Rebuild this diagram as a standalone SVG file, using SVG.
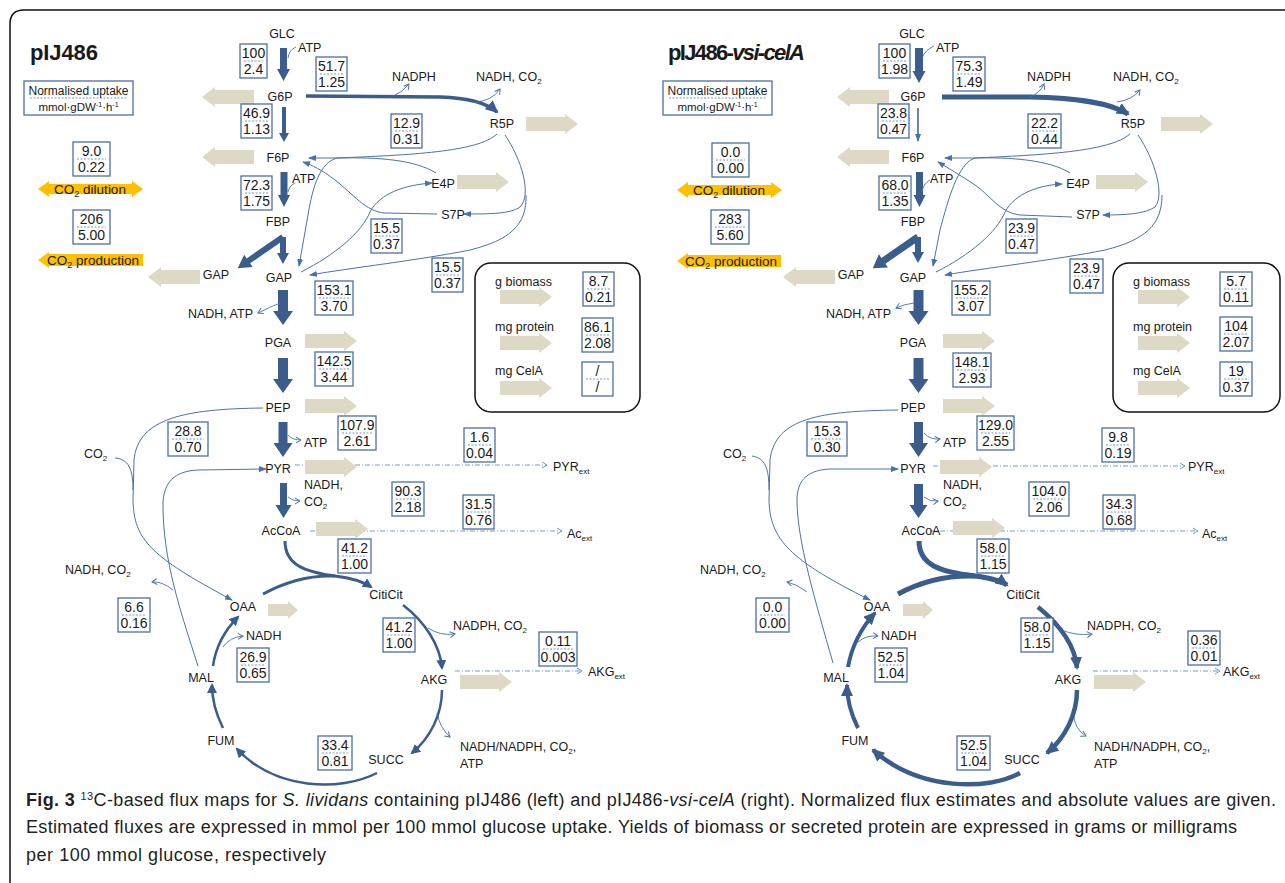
<svg xmlns="http://www.w3.org/2000/svg" width="1285" height="883" viewBox="0 0 1285 883">
<defs>
<style>
text{font-family:"Liberation Sans",Arial,sans-serif;fill:#1a1a1a}
.l{font-size:12.5px;text-anchor:middle}
.s{font-size:12.5px}
.e{font-size:12.5px;text-anchor:end}
.n{font-size:14px;text-anchor:middle}
.fb{fill:#fff;stroke:#4a6fa5;stroke-width:1.3}
.dl{stroke:#6f9ad8;stroke-width:1;stroke-dasharray:2 1.5}
.thin{fill:none;stroke:#4a72a8;stroke-width:1}
.blk{fill:#3a5d8c}
.bg{fill:#ddd9c4}
.or{fill:#ffc000}
.dd{fill:none;stroke:#6f9ad8;stroke-width:1;stroke-dasharray:5 2 1 2}
.side{fill:none;stroke:#4a72a8;stroke-width:0.9}
.thk{fill:none;stroke:#3a5d8c}
.frame{fill:none;stroke:#111;stroke-width:1.5}
.cap{font-size:18px;fill:#231f20}
</style>
<marker id="a" markerUnits="userSpaceOnUse" markerWidth="8" markerHeight="6" refX="7" refY="3" orient="auto"><path d="M0,0 L8,3 L0,6 z" fill="#4a72a8"/></marker>
<marker id="o" markerUnits="userSpaceOnUse" markerWidth="8" markerHeight="8" refX="6" refY="4" orient="auto"><path d="M1,1 L6,4 L1,7" fill="none" stroke="#4a72a8" stroke-width="1"/></marker>
<marker id="od" markerUnits="userSpaceOnUse" markerWidth="8" markerHeight="8" refX="6" refY="4" orient="auto"><path d="M1,1 L6,4 L1,7" fill="none" stroke="#6f9ad8" stroke-width="1"/></marker>
<marker id="A" markerUnits="userSpaceOnUse" markerWidth="14" markerHeight="12" refX="11" refY="6" orient="auto"><path d="M0,0 L13,6 L0,12 z" fill="#3a5d8c"/></marker>
<marker id="B" markerUnits="userSpaceOnUse" markerWidth="11" markerHeight="10" refX="8" refY="5" orient="auto"><path d="M0,0 L10,5 L0,10 z" fill="#3a5d8c"/></marker>
<polygon id="bR" points="0,-7 39,-7 39,-10 52,0 39,10 39,7 0,7"/>
<polygon id="bL" points="0,0 13,-10 13,-7 52,-7 52,7 13,7 13,10"/>
<polygon id="bS" points="0,-6 20,-6 20,-9 30,0 20,9 20,6 0,6"/>
</defs>

<path class="frame" d="M1290,10 H24 Q10,10 10,24 V890"/>

<!-- ================= LEFT PANEL ================= -->
<text x="30" y="60" font-size="22" font-weight="bold" textLength="68">pIJ486</text>

<g id="L-uptake"><rect class="fb" x="24" y="81" width="109" height="34"/><line class="dl" x1="30" y1="98" x2="127" y2="98"/><text class="l" x="78.5" y="95" style="font-size:12px">Normalised uptake</text><text class="l" x="78.5" y="111" style="font-size:11.5px">mmol·gDW<tspan dy="-4" font-size="7">-1</tspan><tspan dy="4">·h</tspan><tspan dy="-4" font-size="7">-1</tspan></text></g>

<g id="L-co2dil"><g><rect class="fb" x="73" y="142" width="37" height="34"/><line class="dl" x1="77" y1="159" x2="106" y2="159"/><text class="n" x="91.5" y="156">9.0</text><text class="n" x="91.5" y="172">0.22</text></g>
<polygon class="or" points="38,189 49,181 49,184 132,184 132,181 143,189 132,197 132,194 49,194 49,197"/>
<text class="l" x="90" y="194" style="font-size:13.5px">CO<tspan dy="3" font-size="9">2</tspan><tspan dy="-3"> dilution</tspan></text></g>

<g id="L-co2prod"><g><rect class="fb" x="73" y="210" width="37" height="34"/><line class="dl" x1="77" y1="227" x2="106" y2="227"/><text class="n" x="91.5" y="224">206</text><text class="n" x="91.5" y="240">5.00</text></g>
<polygon class="or" points="38,260 49,252 49,254 143,254 143,266 49,266 49,268"/>
<text class="l" x="93" y="265" style="font-size:13.5px">CO<tspan dy="3" font-size="9">2</tspan><tspan dy="-3"> production</tspan></text></g>

<!-- connectors left -->
<g id="L-connectors">
<polygon class="blk" points="280,48 287,48 287,69 290,69 283.5,81 277,69 280,69"/>
<polygon class="blk" points="282,107 286,107 286,133 289,133 284,142 279,133 282,133"/>
<polygon class="blk" points="280.5,172 287.5,172 287.5,195 290,195 284,207 278,195 280.5,195"/>
<polygon class="blk" points="280,237 286,237 286,253 289,253 283,264 277,253 280,253"/>
<polygon class="blk" transform="translate(283,237) rotate(145.4)" points="0,-3 42,-3 42,-7.5 55,0 42,7.5 42,3 0,3"/>
<polygon class="blk" points="278,290 288,290 288,311 293,311 283,325 273,311 278,311"/>
<polygon class="blk" points="278,358 288,358 288,379 293,379 283,393 273,379 278,379"/>
<polygon class="blk" points="278.5,422 287.5,422 287.5,443 292.5,443 283,457 273.5,443 278.5,443"/>
<polygon class="blk" points="280,483 287,483 287,505 291.5,505 283.5,518 275.5,505 280,505"/>
<path class="thk" stroke-width="3.5" marker-end="url(#A)" d="M306,96 L440,97 C470,98 488,104 497,112"/>
<path class="side" d="M296,47 Q289,50 288,58"/>
<path class="side" marker-end="url(#o)" d="M393,96 Q403,92 409,84"/>
<path class="side" marker-end="url(#o)" d="M475,102 Q492,101 500,89"/>
<path class="side" d="M295,183 Q289,186 288,192"/>
<path class="side" marker-end="url(#o)" d="M280,303 Q270,307 258,313"/>
<path class="side" marker-end="url(#o)" d="M288,435 Q292,440 301,440"/>
<path class="side" marker-end="url(#o)" d="M288,497 Q292,501 300,501"/>
<path class="side" marker-end="url(#o)" d="M428,628 Q440,636 455,634"/>
<path class="side" marker-end="url(#o)" d="M437,713 Q440,728 450,737"/>
<path class="side" marker-end="url(#o)" d="M223,647 Q230,637 243,636"/>
<path class="side" marker-end="url(#o)" d="M173,590 Q162,581 152,582"/>
<!-- non-oxidative PPP -->
<path class="thin" marker-end="url(#a)" d="M497,134 C478,152 410,155 337,158 L309,158"/>
<path class="thin" marker-end="url(#a)" d="M337,158 C320,163 313,185 308,215 L299,266"/>
<path class="thin" d="M436,173 C415,160 380,157 337,158"/>
<path class="thin" marker-end="url(#a)" d="M437,214 L385,213 C366,212 352,193 335,180 C322,170 312,165 303,162"/>
<path class="thin" marker-end="url(#a)" d="M301,272 C335,255 362,232 370,212 C380,193 405,185 432,183"/>
<path class="thin" marker-end="url(#a)" d="M505,135 C522,160 532,195 520,207 C510,214 490,214 464,214"/>
<path class="thin" marker-end="url(#a)" d="M526,195 C527,225 510,240 470,250 C420,260 350,268 310,275"/>
<!-- anaplerotic -->
<path class="thin" marker-end="url(#a)" d="M198,666 C180,610 163,560 163,505 C163,482 175,471 198,470 L266,469"/>
<path class="thin" stroke-width="1.3" marker-end="url(#a)" d="M263,408 C185,409 138,418 134,460 L133,500 C134,540 150,556 232,600"/>
<path class="thin" stroke-width="1.3" d="M115,458 C128,459 133,468 133,490"/>
<!-- external -->
<path class="dd" marker-end="url(#od)" d="M295,465 H547"/>
<path class="dd" marker-end="url(#od)" d="M310,531 H562"/>
<path class="dd" marker-end="url(#od)" d="M455,671 H582"/>
<!-- TCA -->
<path class="thk" stroke-width="3" marker-end="url(#B)" d="M285,541 C285,565 305,572 335,576 C352,578 362,581 371,587"/>
<path class="thk" stroke-width="3" d="M263,594 C285,582 310,575 335,576"/>
<path class="thk" stroke-width="2.5" marker-end="url(#B)" d="M403,605 C425,622 440,645 442,668"/>
<path class="thk" stroke-width="2.5" marker-end="url(#B)" d="M442,690 C442,715 430,738 412,753"/>
<path class="thk" stroke-width="2.5" marker-end="url(#B)" d="M377,773 C340,792 275,790 237,749"/>
<path class="thk" stroke-width="2.5" marker-end="url(#B)" d="M223,728 C215,712 212,700 212,685"/>
<path class="thk" stroke-width="2.5" marker-end="url(#B)" d="M213,666 C216,645 225,630 238,617"/>
</g>

<!-- beige arrows left -->
<g class="bg">
<use href="#bR" x="526" y="124"/><use href="#bR" x="457" y="182"/><use href="#bR" x="305" y="341"/><use href="#bR" x="305" y="406"/><use href="#bR" x="305" y="467"/><use href="#bR" x="316" y="529"/><use href="#bR" x="460" y="682"/><use href="#bS" x="268" y="610"/>
<use href="#bL" x="202" y="97"/><use href="#bL" x="202" y="157"/><use href="#bL" x="148" y="277"/>
</g>

<!-- nodes left -->
<g id="L-GLC"><text class="l" x="282" y="38">GLC</text><text class="s" x="298" y="52">ATP</text></g>
<g id="L-G6P"><text class="l" x="280" y="101">G6P</text></g>
<g id="L-F6P"><text class="l" x="278" y="162">F6P</text><text class="s" x="292" y="183">ATP</text></g>
<g id="L-FBP"><text class="l" x="278" y="226">FBP</text></g>
<g id="L-GAP"><text class="l" x="279" y="282">GAP</text><text class="e" x="253" y="318">NADH, ATP</text></g>
<g id="L-GAP2"><text class="l" x="216" y="279">GAP</text></g>
<g id="L-PGA"><text class="l" x="278" y="347">PGA</text></g>
<g id="L-PEP"><text class="l" x="278" y="412">PEP</text><text class="s" x="304" y="447">ATP</text></g>
<g id="L-PYR"><text class="l" x="278" y="473">PYR</text><text class="s" x="304" y="489">NADH,</text><text class="s" x="304" y="506">CO<tspan dy="3" font-size="8">2</tspan></text></g>
<g id="L-AcCoA"><text class="l" x="281" y="535">AcCoA</text></g>
<g id="L-R5P"><text class="l" x="502" y="128">R5P</text><text class="l" x="414" y="81">NADPH</text><text class="s" x="476" y="81">NADH, CO<tspan dy="3" font-size="8">2</tspan></text></g>
<g id="L-E4P"><text class="l" x="443" y="188">E4P</text></g>
<g id="L-S7P"><text class="l" x="453" y="219">S7P</text></g>
<g id="L-OAA"><text class="l" x="243" y="611">OAA</text><text class="s" x="246" y="640">NADH</text></g>
<g id="L-CitiCit"><text class="l" x="386" y="599">CitiCit</text></g>
<g id="L-AKG"><text class="l" x="434" y="684">AKG</text><text class="s" x="453" y="630">NADPH, CO<tspan dy="3" font-size="8">2</tspan></text></g>
<g id="L-SUCC"><text class="l" x="386" y="764">SUCC</text><text class="s" x="460" y="751">NADH/NADPH, CO<tspan dy="3" font-size="8">2</tspan><tspan dy="-3">,</tspan></text><text class="s" x="460" y="768">ATP</text></g>
<g id="L-FUM"><text class="l" x="221" y="745">FUM</text></g>
<g id="L-MAL"><text class="l" x="201" y="682">MAL</text><text class="s" x="65" y="574">NADH, CO<tspan dy="3" font-size="8">2</tspan></text></g>
<g id="L-CO2"><text class="s" x="84" y="458">CO<tspan dy="3" font-size="8">2</tspan></text></g>
<g id="L-PYRext"><text class="s" x="553" y="471">PYR<tspan dy="3" font-size="8">ext</tspan></text></g>
<g id="L-Acext"><text class="s" x="567" y="538">Ac<tspan dy="3" font-size="8">ext</tspan></text></g>
<g id="L-AKGext"><text class="s" x="588" y="676">AKG<tspan dy="3" font-size="8">ext</tspan></text></g>

<!-- flux boxes left -->
<g id="L-fluxes">
<g><rect class="fb" x="240" y="44" width="27" height="34"/><line class="dl" x1="244" y1="61" x2="263" y2="61"/><text class="n" x="253.5" y="58">100</text><text class="n" x="253.5" y="74">2.4</text></g>
<g><rect class="fb" x="316" y="57" width="31" height="34"/><line class="dl" x1="320" y1="74" x2="343" y2="74"/><text class="n" x="331.5" y="71">51.7</text><text class="n" x="331.5" y="87">1.25</text></g>
<g><rect class="fb" x="391" y="114" width="31" height="34"/><line class="dl" x1="395" y1="131" x2="418" y2="131"/><text class="n" x="406.5" y="128">12.9</text><text class="n" x="406.5" y="144">0.31</text></g>
<g><rect class="fb" x="241" y="104" width="31" height="34"/><line class="dl" x1="245" y1="121" x2="268" y2="121"/><text class="n" x="256.5" y="118">46.9</text><text class="n" x="256.5" y="134">1.13</text></g>
<g><rect class="fb" x="241" y="176" width="31" height="34"/><line class="dl" x1="245" y1="193" x2="268" y2="193"/><text class="n" x="256.5" y="190">72.3</text><text class="n" x="256.5" y="206">1.75</text></g>
<g><rect class="fb" x="371" y="219" width="31" height="34"/><line class="dl" x1="375" y1="236" x2="398" y2="236"/><text class="n" x="386.5" y="233">15.5</text><text class="n" x="386.5" y="249">0.37</text></g>
<g><rect class="fb" x="432" y="258" width="31" height="34"/><line class="dl" x1="436" y1="275" x2="459" y2="275"/><text class="n" x="447.5" y="272">15.5</text><text class="n" x="447.5" y="288">0.37</text></g>
<g><rect class="fb" x="315" y="281" width="38" height="34"/><line class="dl" x1="319" y1="298" x2="349" y2="298"/><text class="n" x="334" y="295">153.1</text><text class="n" x="334" y="311">3.70</text></g>
<g><rect class="fb" x="315" y="352" width="38" height="34"/><line class="dl" x1="319" y1="369" x2="349" y2="369"/><text class="n" x="334" y="366">142.5</text><text class="n" x="334" y="382">3.44</text></g>
<g><rect class="fb" x="338" y="416" width="38" height="34"/><line class="dl" x1="342" y1="433" x2="372" y2="433"/><text class="n" x="357" y="430">107.9</text><text class="n" x="357" y="446">2.61</text></g>
<g><rect class="fb" x="168" y="422" width="40" height="34"/><line class="dl" x1="172" y1="439" x2="204" y2="439"/><text class="n" x="188" y="436">28.8</text><text class="n" x="188" y="452">0.70</text></g>
<g><rect class="fb" x="464" y="428" width="31" height="34"/><line class="dl" x1="468" y1="445" x2="491" y2="445"/><text class="n" x="479.5" y="442">1.6</text><text class="n" x="479.5" y="458">0.04</text></g>
<g><rect class="fb" x="392" y="482" width="32" height="34"/><line class="dl" x1="396" y1="499" x2="420" y2="499"/><text class="n" x="408" y="496">90.3</text><text class="n" x="408" y="512">2.18</text></g>
<g><rect class="fb" x="463" y="495" width="31" height="34"/><line class="dl" x1="467" y1="512" x2="490" y2="512"/><text class="n" x="478.5" y="509">31.5</text><text class="n" x="478.5" y="525">0.76</text></g>
<g><rect class="fb" x="338" y="539" width="33" height="34"/><line class="dl" x1="342" y1="556" x2="367" y2="556"/><text class="n" x="354.5" y="553">41.2</text><text class="n" x="354.5" y="569">1.00</text></g>
<g><rect class="fb" x="118" y="598" width="32" height="34"/><line class="dl" x1="122" y1="615" x2="146" y2="615"/><text class="n" x="134" y="612">6.6</text><text class="n" x="134" y="628">0.16</text></g>
<g><rect class="fb" x="383" y="618" width="32" height="34"/><line class="dl" x1="387" y1="635" x2="411" y2="635"/><text class="n" x="399" y="632">41.2</text><text class="n" x="399" y="648">1.00</text></g>
<g><rect class="fb" x="539" y="632" width="38" height="34"/><line class="dl" x1="543" y1="649" x2="573" y2="649"/><text class="n" x="558" y="646">0.11</text><text class="n" x="558" y="662">0.003</text></g>
<g><rect class="fb" x="237" y="648" width="32" height="34"/><line class="dl" x1="241" y1="665" x2="265" y2="665"/><text class="n" x="253" y="662">26.9</text><text class="n" x="253" y="678">0.65</text></g>
<g><rect class="fb" x="318" y="736" width="34" height="34"/><line class="dl" x1="322" y1="753" x2="348" y2="753"/><text class="n" x="335" y="750">33.4</text><text class="n" x="335" y="766">0.81</text></g>
</g>

<g id="L-yields">
<rect x="475" y="263" width="165" height="149" rx="16" class="frame"/>
<text class="s" x="495" y="286">g biomass</text><text class="s" x="495" y="331">mg protein</text><text class="s" x="495" y="375">mg CelA</text>
<g class="bg"><use href="#bR" x="500" y="297"/><use href="#bR" x="500" y="343"/><use href="#bR" x="500" y="388"/></g>
<g><rect class="fb" x="583" y="272" width="31" height="34"/><line class="dl" x1="587" y1="289" x2="610" y2="289"/><text class="n" x="598.5" y="286">8.7</text><text class="n" x="598.5" y="302">0.21</text></g>
<g><rect class="fb" x="582" y="318" width="31" height="34"/><line class="dl" x1="586" y1="335" x2="609" y2="335"/><text class="n" x="597.5" y="332">86.1</text><text class="n" x="597.5" y="348">2.08</text></g>
<g><rect class="fb" x="582" y="362" width="31" height="34"/><line class="dl" x1="586" y1="379" x2="609" y2="379"/><text class="n" x="597.5" y="376">/</text><text class="n" x="597.5" y="392">/</text></g>
</g>

<!-- ================= RIGHT PANEL ================= -->
<text x="668" y="60" font-size="22" font-weight="bold" textLength="137">pIJ486-<tspan font-style="italic">vsi-celA</tspan></text>

<g id="R-uptake"><rect class="fb" x="663" y="81" width="109" height="34"/><line class="dl" x1="669" y1="98" x2="766" y2="98"/><text class="l" x="717.5" y="95" style="font-size:12px">Normalised uptake</text><text class="l" x="717.5" y="111" style="font-size:11.5px">mmol·gDW<tspan dy="-4" font-size="7">-1</tspan><tspan dy="4">·h</tspan><tspan dy="-4" font-size="7">-1</tspan></text></g>

<g id="R-co2dil"><g><rect class="fb" x="712" y="143" width="37" height="34"/><line class="dl" x1="716" y1="160" x2="745" y2="160"/><text class="n" x="730.5" y="157">0.0</text><text class="n" x="730.5" y="173">0.00</text></g>
<polygon class="or" points="677,190 688,182 688,185 771,185 771,182 782,190 771,198 771,195 688,195 688,198"/>
<text class="l" x="729" y="195" style="font-size:13.5px">CO<tspan dy="3" font-size="9">2</tspan><tspan dy="-3"> dilution</tspan></text></g>

<g id="R-co2prod"><g><rect class="fb" x="711" y="210" width="38" height="34"/><line class="dl" x1="715" y1="227" x2="745" y2="227"/><text class="n" x="730" y="224">283</text><text class="n" x="730" y="240">5.60</text></g>
<polygon class="or" points="677,261 688,253 688,255 781,255 781,267 688,267 688,269"/>
<text class="l" x="731" y="266" style="font-size:13.5px">CO<tspan dy="3" font-size="9">2</tspan><tspan dy="-3"> production</tspan></text></g>

<g id="R-connectors">
<polygon class="blk" points="915,48 923,48 923,71 925.5,71 919,83 912.5,71 915,71"/>
<path fill="none" stroke="#3a5d8c" stroke-width="1.5" marker-end="url(#a)" d="M918,108 V141"/>
<polygon class="blk" points="916,172 923,172 923,195 925.5,195 919.5,207 913.5,195 916,195"/>
<polygon class="blk" points="915,237 921,237 921,252 924,252 918,263 912,252 915,252"/>
<polygon class="blk" transform="translate(918,237) rotate(145.4)" points="0,-3.5 42,-3.5 42,-8 55,0 42,8 42,3.5 0,3.5"/>
<polygon class="blk" points="913.5,290 923.5,290 923.5,311 928.5,311 918.5,325 908.5,311 913.5,311"/>
<polygon class="blk" points="913.5,358 923.5,358 923.5,379 928.5,379 918.5,393 908.5,379 913.5,379"/>
<polygon class="blk" points="914,422 923,422 923,443 928,443 918.5,457 909,443 914,443"/>
<polygon class="blk" points="914,484 923,484 923,505 927.5,505 918.5,518 909.5,505 914,505"/>
<path class="thk" stroke-width="5" marker-end="url(#A)" d="M942,97 L1030,97 C1080,98 1110,103 1128,114"/>
<path class="side" d="M934,46 Q925,50 922,58"/>
<path class="side" marker-end="url(#o)" d="M1030,97 Q1040,93 1044,84"/>
<path class="side" marker-end="url(#o)" d="M1117,102 Q1132,100 1140,90"/>
<path class="side" d="M930,180 Q923,184 922,192"/>
<path class="side" marker-end="url(#o)" d="M914,303 Q905,304 896,308"/>
<path class="side" marker-end="url(#o)" d="M924,433 Q930,440 940,439"/>
<path class="side" marker-end="url(#o)" d="M924,497 Q930,502 938,501"/>
<path class="side" marker-end="url(#o)" d="M1062,630 Q1075,636 1092,634"/>
<path class="side" marker-end="url(#o)" d="M1073,713 Q1075,730 1086,736"/>
<path class="side" marker-end="url(#o)" d="M858,642 Q866,635 878,636"/>
<path class="side" marker-end="url(#o)" d="M807,592 Q797,584 787,582"/>
<path class="thin" stroke-width="1.3" marker-end="url(#a)" d="M1130,134 C1110,152 1040,155 975,158 L945,158"/>
<path class="thin" stroke-width="1.3" marker-end="url(#a)" d="M975,158 C958,163 948,200 940,230 L933,266"/>
<path class="thin" stroke-width="1.3" d="M1070,173 C1050,160 1010,157 975,158"/>
<path class="thin" stroke-width="1.3" marker-end="url(#a)" d="M1072,217 L1020,215 C1000,213 990,195 975,185 C960,175 948,168 938,162"/>
<path class="thin" stroke-width="1.3" marker-end="url(#a)" d="M936,272 C970,255 997,232 1005,212 C1015,193 1040,185 1062,184"/>
<path class="thin" stroke-width="1.3" marker-end="url(#a)" d="M1138,135 C1155,160 1165,195 1155,207 C1145,214 1125,215 1103,215"/>
<path class="thin" stroke-width="1.3" marker-end="url(#a)" d="M1162,195 C1162,225 1145,240 1105,250 C1055,260 985,268 945,275"/>
<path class="thin" marker-end="url(#a)" d="M833,663 C815,600 797,540 797,500 C797,478 810,470 830,469 L898,469"/>
<path class="thin" stroke-width="1.3" marker-end="url(#a)" d="M898,410 C820,411 775,418 770,460 L769,500 C770,540 790,560 870,600"/>
<path class="thin" stroke-width="1.3" d="M752,456 C765,458 769,468 769,490"/>
<path class="dd" marker-end="url(#od)" d="M933,466 H1185"/>
<path class="dd" marker-end="url(#od)" d="M930,531 H1198"/>
<path class="dd" marker-end="url(#od)" d="M1093,671 H1220"/>
<path class="thk" stroke-width="5" marker-end="url(#A)" d="M919,541 C919,565 940,572 975,576 C990,578 1000,580 1007,585"/>
<path class="thk" stroke-width="5" d="M898,594 C920,582 945,575 975,576"/>
<path class="thk" stroke-width="4.5" marker-end="url(#A)" d="M1038,607 C1060,625 1075,645 1077,668"/>
<path class="thk" stroke-width="4.5" marker-end="url(#A)" d="M1077,690 C1077,715 1065,738 1047,753"/>
<path class="thk" stroke-width="4.5" marker-end="url(#A)" d="M1020,773 C990,790 920,792 873,750"/>
<path class="thk" stroke-width="4" marker-end="url(#A)" d="M858,728 C850,712 847,700 847,685"/>
<path class="thk" stroke-width="4" marker-end="url(#A)" d="M848,667 C852,645 862,627 875,613"/>
</g>

<g class="bg">
<use href="#bR" x="1161" y="124"/><use href="#bR" x="1096" y="182"/><use href="#bR" x="943" y="341"/><use href="#bR" x="943" y="406"/><use href="#bR" x="940" y="467"/><use href="#bR" x="953" y="528"/><use href="#bR" x="1094" y="682"/><use href="#bS" x="903" y="610"/>
<use href="#bL" x="837" y="97"/><use href="#bL" x="837" y="157"/><use href="#bL" x="783" y="277"/>
</g>

<g id="R-GLC"><text class="l" x="912" y="38">GLC</text><text class="s" x="936" y="52">ATP</text></g>
<g id="R-G6P"><text class="l" x="913" y="101">G6P</text></g>
<g id="R-F6P"><text class="l" x="913" y="162">F6P</text><text class="s" x="930" y="183">ATP</text></g>
<g id="R-FBP"><text class="l" x="913" y="226">FBP</text></g>
<g id="R-GAP"><text class="l" x="913" y="282">GAP</text><text class="e" x="891" y="318">NADH, ATP</text></g>
<g id="R-GAP2"><text class="l" x="851" y="279">GAP</text></g>
<g id="R-PGA"><text class="l" x="913" y="347">PGA</text></g>
<g id="R-PEP"><text class="l" x="913" y="412">PEP</text><text class="s" x="943" y="447">ATP</text></g>
<g id="R-PYR"><text class="l" x="913" y="473">PYR</text><text class="s" x="943" y="489">NADH,</text><text class="s" x="943" y="506">CO<tspan dy="3" font-size="8">2</tspan></text></g>
<g id="R-AcCoA"><text class="l" x="921" y="535">AcCoA</text></g>
<g id="R-R5P"><text class="l" x="1133" y="128">R5P</text><text class="l" x="1049" y="81">NADPH</text><text class="s" x="1113" y="81">NADH, CO<tspan dy="3" font-size="8">2</tspan></text></g>
<g id="R-E4P"><text class="l" x="1078" y="188">E4P</text></g>
<g id="R-S7P"><text class="l" x="1088" y="219">S7P</text></g>
<g id="R-OAA"><text class="l" x="877" y="611">OAA</text><text class="s" x="881" y="640">NADH</text></g>
<g id="R-CitiCit"><text class="l" x="1023" y="599">CitiCit</text></g>
<g id="R-AKG"><text class="l" x="1068" y="684">AKG</text><text class="s" x="1087" y="630">NADPH, CO<tspan dy="3" font-size="8">2</tspan></text></g>
<g id="R-SUCC"><text class="l" x="1022" y="764">SUCC</text><text class="s" x="1094" y="751">NADH/NADPH, CO<tspan dy="3" font-size="8">2</tspan><tspan dy="-3">,</tspan></text><text class="s" x="1094" y="768">ATP</text></g>
<g id="R-FUM"><text class="l" x="855" y="745">FUM</text></g>
<g id="R-MAL"><text class="l" x="836" y="682">MAL</text><text class="s" x="700" y="574">NADH, CO<tspan dy="3" font-size="8">2</tspan></text></g>
<g id="R-CO2"><text class="s" x="723" y="458">CO<tspan dy="3" font-size="8">2</tspan></text></g>
<g id="R-PYRext"><text class="s" x="1188" y="471">PYR<tspan dy="3" font-size="8">ext</tspan></text></g>
<g id="R-Acext"><text class="s" x="1202" y="538">Ac<tspan dy="3" font-size="8">ext</tspan></text></g>
<g id="R-AKGext"><text class="s" x="1223" y="676">AKG<tspan dy="3" font-size="8">ext</tspan></text></g>

<g id="R-fluxes">
<g><rect class="fb" x="879" y="44" width="31" height="34"/><line class="dl" x1="883" y1="61" x2="906" y2="61"/><text class="n" x="894.5" y="58">100</text><text class="n" x="894.5" y="74">1.98</text></g>
<g><rect class="fb" x="953" y="57" width="32" height="34"/><line class="dl" x1="957" y1="74" x2="981" y2="74"/><text class="n" x="969" y="71">75.3</text><text class="n" x="969" y="87">1.49</text></g>
<g><rect class="fb" x="1028" y="114" width="33" height="34"/><line class="dl" x1="1032" y1="131" x2="1057" y2="131"/><text class="n" x="1044.5" y="128">22.2</text><text class="n" x="1044.5" y="144">0.44</text></g>
<g><rect class="fb" x="878" y="104" width="31" height="34"/><line class="dl" x1="882" y1="121" x2="905" y2="121"/><text class="n" x="893.5" y="118">23.8</text><text class="n" x="893.5" y="134">0.47</text></g>
<g><rect class="fb" x="879" y="176" width="32" height="34"/><line class="dl" x1="883" y1="193" x2="907" y2="193"/><text class="n" x="895" y="190">68.0</text><text class="n" x="895" y="206">1.35</text></g>
<g><rect class="fb" x="1006" y="219" width="31" height="34"/><line class="dl" x1="1010" y1="236" x2="1033" y2="236"/><text class="n" x="1021.5" y="233">23.9</text><text class="n" x="1021.5" y="249">0.47</text></g>
<g><rect class="fb" x="1070" y="259" width="33" height="34"/><line class="dl" x1="1074" y1="276" x2="1099" y2="276"/><text class="n" x="1086.5" y="273">23.9</text><text class="n" x="1086.5" y="289">0.47</text></g>
<g><rect class="fb" x="952" y="281" width="38" height="34"/><line class="dl" x1="956" y1="298" x2="986" y2="298"/><text class="n" x="971" y="295">155.2</text><text class="n" x="971" y="311">3.07</text></g>
<g><rect class="fb" x="953" y="353" width="38" height="34"/><line class="dl" x1="957" y1="370" x2="987" y2="370"/><text class="n" x="972" y="367">148.1</text><text class="n" x="972" y="383">2.93</text></g>
<g><rect class="fb" x="977" y="416" width="37" height="34"/><line class="dl" x1="981" y1="433" x2="1010" y2="433"/><text class="n" x="995.5" y="430">129.0</text><text class="n" x="995.5" y="446">2.55</text></g>
<g><rect class="fb" x="807" y="422" width="40" height="34"/><line class="dl" x1="811" y1="439" x2="843" y2="439"/><text class="n" x="827" y="436">15.3</text><text class="n" x="827" y="452">0.30</text></g>
<g><rect class="fb" x="1102" y="428" width="32" height="34"/><line class="dl" x1="1106" y1="445" x2="1130" y2="445"/><text class="n" x="1118" y="442">9.8</text><text class="n" x="1118" y="458">0.19</text></g>
<g><rect class="fb" x="1029" y="482" width="40" height="34"/><line class="dl" x1="1033" y1="499" x2="1065" y2="499"/><text class="n" x="1049" y="496">104.0</text><text class="n" x="1049" y="512">2.06</text></g>
<g><rect class="fb" x="1103" y="495" width="32" height="34"/><line class="dl" x1="1107" y1="512" x2="1131" y2="512"/><text class="n" x="1119" y="509">34.3</text><text class="n" x="1119" y="525">0.68</text></g>
<g><rect class="fb" x="977" y="539" width="32" height="34"/><line class="dl" x1="981" y1="556" x2="1005" y2="556"/><text class="n" x="993" y="553">58.0</text><text class="n" x="993" y="569">1.15</text></g>
<g><rect class="fb" x="756" y="598" width="33" height="34"/><line class="dl" x1="760" y1="615" x2="785" y2="615"/><text class="n" x="772.5" y="612">0.0</text><text class="n" x="772.5" y="628">0.00</text></g>
<g><rect class="fb" x="1021" y="618" width="32" height="34"/><line class="dl" x1="1025" y1="635" x2="1049" y2="635"/><text class="n" x="1037" y="632">58.0</text><text class="n" x="1037" y="648">1.15</text></g>
<g><rect class="fb" x="1188" y="631" width="32" height="34"/><line class="dl" x1="1192" y1="648" x2="1216" y2="648"/><text class="n" x="1204" y="645">0.36</text><text class="n" x="1204" y="661">0.01</text></g>
<g><rect class="fb" x="875" y="648" width="32" height="34"/><line class="dl" x1="879" y1="665" x2="903" y2="665"/><text class="n" x="891" y="662">52.5</text><text class="n" x="891" y="678">1.04</text></g>
<g><rect class="fb" x="957" y="736" width="33" height="34"/><line class="dl" x1="961" y1="753" x2="986" y2="753"/><text class="n" x="973.5" y="750">52.5</text><text class="n" x="973.5" y="766">1.04</text></g>
</g>

<g id="R-yields">
<rect x="1113" y="263" width="167" height="149" rx="16" class="frame"/>
<text class="s" x="1133" y="286">g biomass</text><text class="s" x="1133" y="331">mg protein</text><text class="s" x="1133" y="375">mg CelA</text>
<g class="bg"><use href="#bR" x="1138" y="297"/><use href="#bR" x="1138" y="343"/><use href="#bR" x="1138" y="388"/></g>
<g><rect class="fb" x="1220" y="272" width="32" height="34"/><line class="dl" x1="1224" y1="289" x2="1248" y2="289"/><text class="n" x="1236" y="286">5.7</text><text class="n" x="1236" y="302">0.11</text></g>
<g><rect class="fb" x="1220" y="317" width="32" height="34"/><line class="dl" x1="1224" y1="334" x2="1248" y2="334"/><text class="n" x="1236" y="331">104</text><text class="n" x="1236" y="347">2.07</text></g>
<g><rect class="fb" x="1220" y="362" width="32" height="34"/><line class="dl" x1="1224" y1="379" x2="1248" y2="379"/><text class="n" x="1236" y="376">19</text><text class="n" x="1236" y="392">0.37</text></g>
</g>

<!-- caption -->
<g id="caption">
<text class="cap" x="26" y="806" textLength="1250"><tspan font-weight="bold">Fig. 3</tspan>  <tspan dy="-6" font-size="11">13</tspan><tspan dy="6">C-based flux maps for </tspan><tspan font-style="italic">S. lividans</tspan> containing pIJ486 (left) and pIJ486-<tspan font-style="italic">vsi-celA</tspan> (right). Normalized flux estimates and absolute values are given.</text>
<text class="cap" x="26" y="833" textLength="1211">Estimated fluxes are expressed in mmol per 100 mmol glucose uptake. Yields of biomass or secreted protein are expressed in grams or milligrams</text>
<text class="cap" x="26" y="861" textLength="300">per 100 mmol glucose, respectively</text>
</g>
</svg>
